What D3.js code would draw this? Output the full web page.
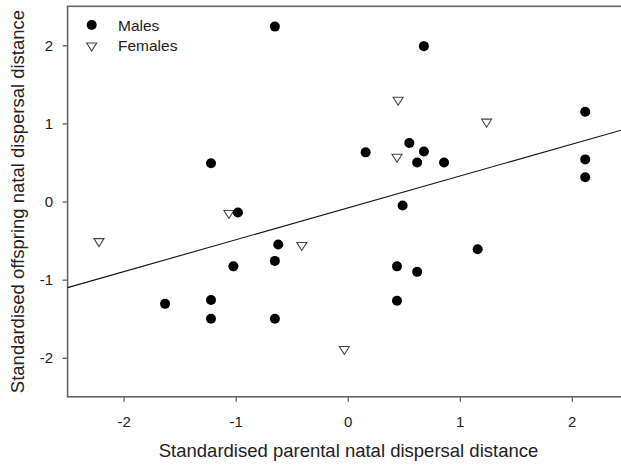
<!DOCTYPE html>
<html><head><meta charset="utf-8">
<script src="https://cdn.jsdelivr.net/npm/d3@7"></script>
<style>body{margin:0;background:#fff}svg{display:block}text{font-family:"Liberation Sans",Arial,sans-serif;fill:#222}</style>
</head><body><svg id="c" width="621" height="465"></svg>
<script>
const malesX = [-0.65, 0.68, -1.22, 0.16, 0.55, 0.68, 0.62, 0.86, 2.12, 2.12, 2.12, -0.98, 0.49, -0.62, -0.65, -1.02, 0.44, 0.62, 1.16, -1.63, -1.22, -1.22, -0.65, 0.44];
const malesY = [2.24, 1.99, 0.49, 0.63, 0.75, 0.64, 0.50, 0.50, 1.15, 0.54, 0.31, -0.14, -0.05, -0.55, -0.76, -0.83, -0.83, -0.90, -0.61, -1.31, -1.26, -1.50, -1.50, -1.27];
const femalesX = [-2.22, -1.06, -0.41, 0.45, 1.24, 0.44, -0.03];
const femalesY = [-0.52, -0.16, -0.57, 1.29, 1.01, 0.56, -1.90];
const xTicks = [-2, -1, 0, 1, 2];
const yTicks = [-2, -1, 0, 1, 2];
const fitIntercept = -0.082;
const fitSlope = 0.408;
const legendLabels = ["Males", "Females"];

const svg = d3.select("#c");
const x = d3.scaleLinear().domain([-2.5, 2.5]).range([67.6, 627.8]);
const y = d3.scaleLinear().domain([-2.5, 2.5]).range([396.8, 6.3]);
const FONT = '"Liberation Sans",Arial,sans-serif';

const g = svg.append("g");
// axes
const xAxis = g.append("g").attr("transform", `translate(0,${y(-2.5)})`)
  .call(d3.axisBottom(x).tickValues(xTicks).tickSize(5).tickPadding(14.5).tickFormat(d3.format("d")));
const yAxis = g.append("g").attr("transform", `translate(${x(-2.5)},0)`)
  .call(d3.axisLeft(y).tickValues(yTicks).tickSize(5).tickPadding(9.5).tickFormat(d3.format("d")));
[xAxis, yAxis].forEach(a => {
  a.select(".domain").remove();
  a.selectAll(".tick line").attr("stroke", "#333");
  a.selectAll(".tick text").attr("font-size", 15).attr("fill", "#222").style("font-family", FONT);
});
xAxis.selectAll(".tick text").text(d => d < 0 ? "-" + Math.abs(d) : d);
yAxis.selectAll(".tick text").text(d => d < 0 ? "-" + Math.abs(d) : d);

// frame
g.append("rect").attr("x", x(-2.5)).attr("y", y(2.5))
  .attr("width", x(2.5) - x(-2.5)).attr("height", y(-2.5) - y(2.5))
  .attr("fill", "none").attr("stroke", "#666").attr("stroke-width", 1.6);

// regression line
const xr = [-2.5, 2.5];
g.append("line")
  .attr("x1", x(xr[0])).attr("y1", y(fitIntercept + fitSlope * xr[0]))
  .attr("x2", x(xr[1])).attr("y2", y(fitIntercept + fitSlope * xr[1]))
  .attr("stroke", "#111").attr("stroke-width", 1.1);

const males = malesX.map((v, i) => ({x: v, y: malesY[i]}));
const females = femalesX.map((v, i) => ({x: v, y: femalesY[i]}));

const tri = (cx, cy) => {
  const w = 5, h1 = 3.5, h2 = 4.5;
  return `M${cx - w},${cy - h1}L${cx + w},${cy - h1}L${cx},${cy + h2}Z`;
};

g.selectAll("path.fem").data(females).enter().append("path")
  .attr("class", "fem").attr("d", d => tri(x(d.x), y(d.y)))
  .attr("fill", "#fff").attr("stroke", "#444").attr("stroke-width", 1.1);

g.selectAll("circle.male").data(males).enter().append("circle")
  .attr("class", "male").attr("cx", d => x(d.x)).attr("cy", d => y(d.y))
  .attr("r", 5).attr("fill", "#000");

// legend
const lg = g.append("g");
lg.append("circle").attr("cx", 91.7).attr("cy", 25).attr("r", 5).attr("fill", "#000");
lg.append("path").attr("d", tri(91.7, 46.5)).attr("fill", "#fff").attr("stroke", "#444").attr("stroke-width", 1.1);
lg.selectAll("text").data(legendLabels).enter().append("text")
  .attr("x", 118).attr("y", (d, i) => 30.5 + i * 20.5).attr("font-size", 15.5).text(d => d);

// axis labels
svg.append("text").attr("x", 348.5).attr("y", 457).attr("text-anchor", "middle")
  .attr("font-size", 18.5).text("Standardised parental natal dispersal distance");
svg.append("text").attr("transform", `translate(24,${(y(2.5) + y(-2.5)) / 2}) rotate(-90)`)
  .attr("text-anchor", "middle").attr("font-size", 18.5)
  .text("Standardised offspring natal dispersal distance");
</script></body></html>
